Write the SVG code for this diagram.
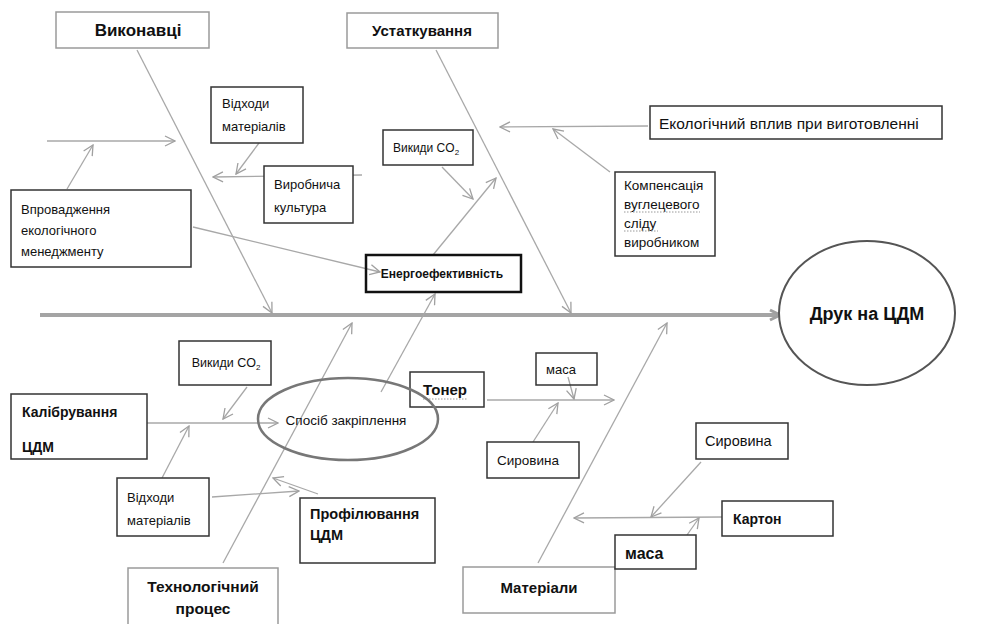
<svg xmlns="http://www.w3.org/2000/svg" width="993" height="624" viewBox="0 0 993 624">
<style>
text{font-family:"Liberation Sans",Arial,sans-serif;fill:#111}
.r{font-size:13px}
.b{font-weight:bold}
.m{text-anchor:middle}
.bx{fill:#fff;stroke:#333;stroke-width:1.5}
.gx{fill:#fff;stroke:#9a9a9a;stroke-width:1.5}
.tx{fill:none;stroke:#111;stroke-width:2.5}
.c{stroke:#a8a8a8;stroke-width:1.3;fill:none;marker-end:url(#ah)}
.sq{stroke:#999;stroke-width:1;stroke-dasharray:1.5 1.5}
</style>
<defs>
<marker id="ah" viewBox="0 0 12 12" refX="11" refY="6" markerWidth="12" markerHeight="12" markerUnits="userSpaceOnUse" orient="auto">
<path d="M1,1 L11,6 L1,11" fill="none" stroke="#a0a0a0" stroke-width="1.3"/>
</marker>
<marker id="sh" viewBox="0 0 14 14" refX="12" refY="7" markerWidth="14" markerHeight="14" markerUnits="userSpaceOnUse" orient="auto">
<path d="M2,2 L12,7 L2,12" fill="none" stroke="#a0a0a0" stroke-width="3"/>
</marker>
</defs>
<g id="connectors">
<line x1="40" y1="315" x2="780" y2="315" stroke="#a4a4a4" stroke-width="4" marker-end="url(#sh)"/>
<line class="c" x1="137" y1="50" x2="272" y2="313"/>
<line class="c" x1="436" y1="50" x2="571" y2="313"/>
<line class="c" x1="47" y1="141" x2="175" y2="141"/>
<line class="c" x1="67" y1="189" x2="93" y2="145"/>
<line class="c" x1="259" y1="143" x2="236" y2="174"/>
<line class="c" x1="362" y1="175" x2="213" y2="177"/>
<line class="c" x1="193" y1="227" x2="380" y2="272"/>
<line class="c" x1="442" y1="167" x2="473" y2="199"/>
<line class="c" x1="433" y1="255" x2="496" y2="178"/>
<line class="c" x1="648" y1="126" x2="500" y2="127"/>
<line class="c" x1="610" y1="172" x2="553" y2="129"/>
<line class="c" x1="147" y1="423" x2="278" y2="423"/>
<line class="c" x1="247" y1="387" x2="223" y2="419"/>
<line class="c" x1="162" y1="478" x2="189" y2="426"/>
<line class="c" x1="223" y1="563" x2="352" y2="323"/>
<line class="c" x1="381" y1="392" x2="435" y2="294"/>
<line class="c" x1="212" y1="497" x2="299" y2="491"/>
<line class="c" x1="318" y1="494" x2="273" y2="478"/>
<line class="c" x1="487" y1="400" x2="614" y2="400"/>
<line class="c" x1="568" y1="377" x2="574" y2="399"/>
<line class="c" x1="533" y1="442" x2="558" y2="403"/>
<line class="c" x1="538" y1="563" x2="667" y2="323"/>
<line class="c" x1="722" y1="517" x2="574" y2="518"/>
<line class="c" x1="701" y1="462" x2="651" y2="517"/>
<line class="c" x1="687" y1="535" x2="699" y2="518"/>
</g>
<g id="vykonavtsi"><rect class="gx" x="56" y="12" width="153" height="36"/><text class="b m" x="138" y="36" font-size="17">Виконавці</text></g>
<g id="ustatkuvannia"><rect class="gx" x="347" y="13" width="151" height="35"/><text class="b m" x="422" y="36" font-size="15">Устаткування</text></g>
<g id="vidkhody1"><rect class="bx" x="211" y="87" width="92" height="56"/><text class="r" x="222" y="108">Відходи</text><text class="r" x="222" y="131">матеріалів</text></g>
<g id="vyrobnycha"><rect class="bx" x="264" y="166" width="89" height="57"/><text class="r" x="274" y="189" font-size="12.5">Виробнича</text><text class="r" x="274" y="212" font-size="12.5">культура</text></g>
<g id="vykydy1"><rect class="bx" x="383" y="130" width="90" height="35"/><text class="m" x="426" y="152" font-size="12">Викиди CO<tspan font-size="8" dy="3">2</tspan></text></g>
<g id="vprovadzhennia"><rect class="bx" x="11" y="190" width="180" height="77"/><text class="r" x="21" y="214">Впровадження</text><text class="r" x="21" y="235">екологічного</text><text class="r" x="21" y="256">менеджменту</text></g>
<g id="energo"><rect class="tx" x="366" y="255" width="155" height="37"/><text class="b m" x="442" y="278" font-size="12">Енергоефективність</text></g>
<g id="ekologichnyi"><rect class="bx" x="650" y="106" width="292" height="33"/><text x="659" y="129" font-size="15.5">Екологічний  вплив при виготовленні</text></g>
<g id="kompensatsiia"><rect class="bx" x="615" y="172" width="100" height="84"/><text x="624" y="190" font-size="13.5">Компенсація</text><text x="624" y="209" font-size="13.5">вуглецевого</text><line class="sq" x1="624" y1="212" x2="700" y2="212"/><text x="624" y="228" font-size="13.5">сліду</text><line class="sq" x1="624" y1="231" x2="658" y2="231"/><text x="624" y="247" font-size="13.5">виробником</text></g>
<g id="druk"><ellipse cx="867" cy="313" rx="88" ry="72" fill="#fff" stroke="#555" stroke-width="2"/><text class="b m" x="867" y="320" font-size="18">Друк на ЦДМ</text></g>
<g id="vykydy2"><rect class="bx" x="179" y="341" width="92" height="44"/><text class="m" x="226" y="367" font-size="12.5">Викиди CO<tspan font-size="8" dy="3">2</tspan></text></g>
<g id="kalibruvannia"><rect class="bx" x="11" y="394" width="136" height="65"/><text class="b" x="22" y="417" font-size="14">Калібрування</text><text class="b" x="22" y="452" font-size="14">ЦДМ</text></g>
<g id="toner"><rect class="bx" x="410" y="372" width="74" height="35" style="fill:none"/><text class="b" x="423" y="395" font-size="15">Тонер</text><line class="sq" x1="423" y1="399" x2="467" y2="399"/></g>
<g id="sposib"><ellipse cx="348" cy="419" rx="90" ry="41" fill="none" stroke="#777" stroke-width="2.5"/><text class="m" x="346" y="425" font-size="13.5">Спосіб закріплення</text></g>
<g id="masa1"><rect class="bx" x="536" y="353" width="61" height="32" style="fill:none"/><text x="546" y="374" font-size="13">маса</text></g>
<g id="syrovyna1"><rect class="bx" x="487" y="442" width="92" height="36"/><text x="497" y="465" font-size="13.5">Сировина</text></g>
<g id="vidkhody2"><rect class="bx" x="117" y="478" width="92" height="58"/><text class="r" x="127" y="502">Відходи</text><text class="r" x="127" y="525">матеріалів</text></g>
<g id="profiliuvannia"><rect class="bx" x="300" y="498" width="135" height="65"/><text class="b" x="310" y="519" font-size="14.5">Профілювання</text><text class="b" x="310" y="540" font-size="14.5">ЦДМ</text></g>
<g id="tekhnolohichnyi"><rect class="gx" x="128" y="568" width="150" height="62"/><text class="b m" x="203" y="592" font-size="15.5">Технологічний</text><text class="b m" x="203" y="614" font-size="15.5">процес</text></g>
<g id="materialy"><rect class="gx" x="463" y="567" width="152" height="46"/><text class="b m" x="539" y="593" font-size="15">Матеріали</text></g>
<g id="masa2"><rect class="bx" x="615" y="535" width="81" height="34"/><text class="b" x="625" y="559" font-size="16">маса</text></g>
<g id="syrovyna2"><rect class="bx" x="696" y="423" width="92" height="36"/><text x="705" y="446" font-size="14.5">Сировина</text></g>
<g id="karton"><rect class="bx" x="722" y="501" width="111" height="35"/><text class="b" x="733" y="524" font-size="14">Картон</text></g>
</svg>
